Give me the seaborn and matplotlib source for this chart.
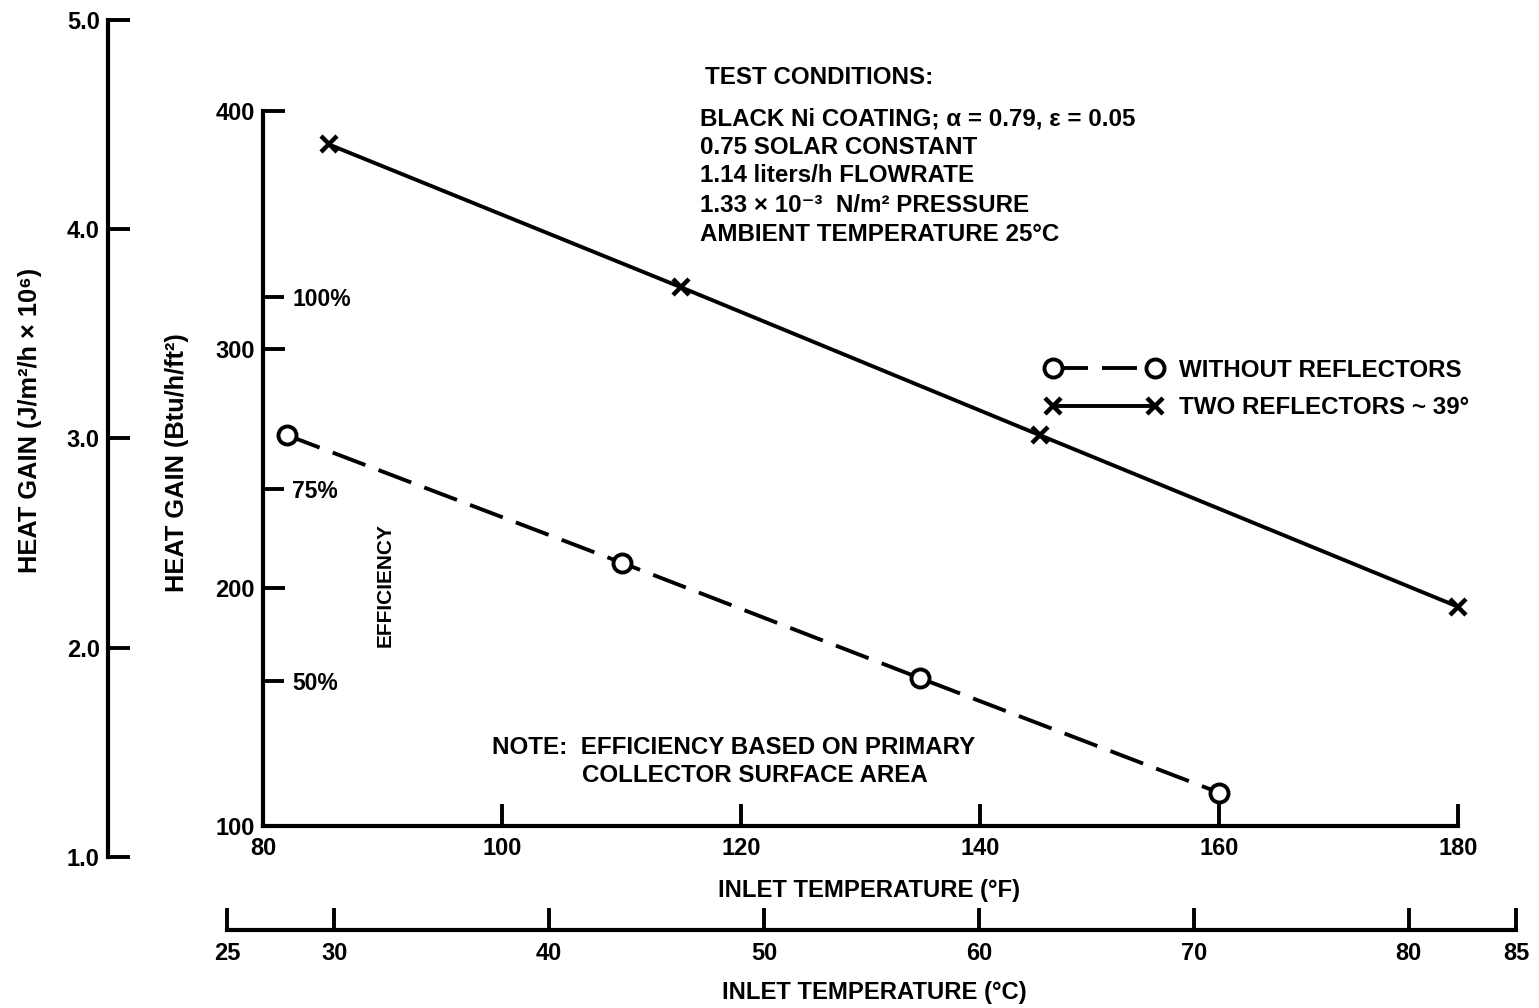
import matplotlib
matplotlib.use("Agg")
import matplotlib.pyplot as plt
import numpy as np
import pandas as pd
import seaborn as sns

# ---------------- data ----------------
temp_without_F = [82, 110, 135, 160]
gain_without = [264, 210.5, 162, 114]
temp_two_F = [85.5, 115, 145, 180]
gain_two = [386, 326, 264, 192]

label_without = "WITHOUT REFLECTORS"
label_two = "TWO REFLECTORS ~ 39°"

xticks_F = [80, 100, 120, 140, 160, 180]
yticks_btu = [100, 200, 300, 400]
yticks_J = [1.0, 2.0, 3.0, 4.0, 5.0]
xticks_C = [25, 30, 40, 50, 60, 70, 80, 85]
eff_ticks = [50, 75, 100]
eff_labels = ["50%", "75%", "100%"]
eff_full_btu = 322  # heat gain (Btu/h/ft2) corresponding to 100 % efficiency

test_lines = [
    "BLACK Ni COATING; α = 0.79, ε = 0.05",
    "0.75 SOLAR CONSTANT",
    "1.14 liters/h FLOWRATE",
    "1.33 × 10⁻³  N/m² PRESSURE",
    "AMBIENT TEMPERATURE 25°C",
]

# ---------------- style ----------------
sns.set_style("white")
plt.rcParams["font.family"] = ["Liberation Sans", "DejaVu Sans"]
plt.rcParams["font.weight"] = "bold"
plt.rcParams["axes.linewidth"] = 3
for k in ["text.color", "axes.labelcolor", "xtick.color", "ytick.color",
          "axes.edgecolor"]:
    plt.rcParams[k] = "black"

W, H = 1539, 1008
fig = plt.figure(figsize=(W / 100, H / 100), dpi=100)
fig.patch.set_facecolor("white")


def rect(l, t, r, b):
    return [l / W, 1 - b / H, (r - l) / W, (b - t) / H]


def ftext(px, py, s, **kw):
    fig.text(px / W, 1 - py / H, s, color="black", **kw)


TICK_LEN = 16
TICK_W = 2.8
SPINE_W = 3
TICK_FS = 17
TXT_FS = 17.4

# ---------------- main axes (°F vs Btu/h/ft2) ----------------
ax = fig.add_axes(rect(263, 111, 1458, 826))
ax.patch.set_visible(False)

sns.lineplot(x=temp_two_F, y=gain_two, ax=ax, color="black", linewidth=2.8,
             marker="x", markersize=12, markeredgewidth=3.2,
             markeredgecolor="black", errorbar=None, label=label_two,
             clip_on=False)
sns.lineplot(x=temp_without_F, y=gain_without, ax=ax, color="black",
             linewidth=2.8, linestyle=(0, (9, 3.6)), marker="o", markersize=13,
             markerfacecolor="white", markeredgecolor="black",
             markeredgewidth=2.8, errorbar=None, label=label_without,
             clip_on=False)

ax.set_xlim(80, 180)
ax.set_ylim(100, 400)
ax.set_xticks(xticks_F)
ax.set_yticks(yticks_btu)
for s in ["top", "right"]:
    ax.spines[s].set_visible(False)
for s in ["left", "bottom"]:
    ax.spines[s].set_color("black")
    ax.spines[s].set_linewidth(SPINE_W)
ax.tick_params(axis="both", direction="in", length=TICK_LEN, width=TICK_W,
               labelsize=TICK_FS, colors="black", left=True, bottom=True)
ax.tick_params(axis="x", pad=8)
ax.tick_params(axis="y", pad=6)

ax.set_xlabel("INLET TEMPERATURE (°F)", fontsize=17.2, fontweight="bold")
ax.xaxis.set_label_coords((869 - 263) / 1195, (826 - 890) / 715)
ax.xaxis.label.set_va("center")
ax.set_ylabel("HEAT GAIN (Btu/h/ft²)", fontsize=18.3, fontweight="bold")
ax.yaxis.set_label_coords((177 - 263) / 1195, (826 - 463) / 715)
ax.yaxis.label.set_va("center")

# legend
handles, labels = ax.get_legend_handles_labels()
order = [labels.index(label_without), labels.index(label_two)]
leg = ax.legend([handles[i] for i in order], [labels[i] for i in order],
                loc="center left", bbox_to_anchor=(1046 / W, 1 - 389 / H),
                bbox_transform=fig.transFigure, frameon=False, numpoints=2,
                handlelength=4.8, handletextpad=0.72, labelspacing=0.6,
                borderpad=0, borderaxespad=0,
                prop={"size": TXT_FS, "weight": "bold"})
for t in leg.get_texts():
    t.set_color("black")

# ---------------- efficiency scale ----------------
eax = fig.add_axes(rect(263, 111, 1458, 826))
eax.patch.set_visible(False)
eax.set_xlim(0, 1)
eax.set_ylim(100 / eff_full_btu * 100, 400 / eff_full_btu * 100)
for s in ["top", "left", "bottom"]:
    eax.spines[s].set_visible(False)
eax.spines["right"].set_position(("axes", 0))
eax.spines["right"].set_color("none")
eax.yaxis.tick_right()
eax.set_xticks([])
eax.set_yticks(eff_ticks)
eax.set_yticklabels(eff_labels)
eax.tick_params(axis="y", direction="out", length=15, width=TICK_W,
                pad=6, labelsize=16.5, colors="black", right=True)
eax.yaxis.set_label_position("right")
eax.set_ylabel("EFFICIENCY", fontsize=15, fontweight="bold", rotation=90)
eax.yaxis.set_label_coords((385 - 263) / 1195, (826 - 585) / 715)
eax.yaxis.label.set_va("center")
eax.yaxis.label.set_ha("center")

# ---------------- J/m2/h scale ----------------
jax = fig.add_axes(rect(108, 20, 140, 857))
jax.patch.set_visible(False)
jax.set_ylim(1.0, 5.0)
jax.set_xticks([])
jax.set_yticks(yticks_J)
jax.set_yticklabels([f"{v:.1f}" for v in yticks_J])
for s in ["top", "right", "bottom"]:
    jax.spines[s].set_visible(False)
jax.spines["left"].set_color("black")
jax.spines["left"].set_linewidth(SPINE_W)
jax.tick_params(axis="y", direction="in", length=TICK_LEN, width=TICK_W,
                pad=6, labelsize=TICK_FS, colors="black", left=True)
jax.set_ylabel("HEAT GAIN (J/m²/h × 10⁶)", fontsize=18.3, fontweight="bold")
jax.yaxis.set_label_coords((30 - 108) / 32, (857 - 420) / 837)
jax.yaxis.label.set_va("center")

# ---------------- °C scale ----------------
cax = fig.add_axes(rect(227, 920, 1516, 930))
cax.patch.set_visible(False)
cax.set_xlim(25, 85)
cax.set_yticks([])
cax.set_xticks(xticks_C)
for s in ["top", "right", "left"]:
    cax.spines[s].set_visible(False)
cax.spines["bottom"].set_color("black")
cax.spines["bottom"].set_linewidth(SPINE_W)
cax.tick_params(axis="x", direction="in", length=TICK_LEN, width=TICK_W,
                pad=9, labelsize=TICK_FS, colors="black", bottom=True)
cax.set_xlabel("INLET TEMPERATURE (°C)", fontsize=17.2, fontweight="bold")
cax.xaxis.set_label_coords((874 - 227) / 1289, (930 - 993) / 10)
cax.xaxis.label.set_va("center")

# ---------------- annotations ----------------
ftext(705, 78, "TEST CONDITIONS:", fontsize=TXT_FS, fontweight="bold",
      va="center", ha="left")
for ypix, line in zip([119, 147, 176, 205, 234], test_lines):
    ftext(700, ypix, line, fontsize=TXT_FS, fontweight="bold", va="center",
          ha="left")

ftext(492, 747, "NOTE:  EFFICIENCY BASED ON PRIMARY", fontsize=TXT_FS,
      fontweight="bold", va="center", ha="left")
ftext(582, 775, "COLLECTOR SURFACE AREA", fontsize=TXT_FS, fontweight="bold",
      va="center", ha="left")

fig.savefig("out.png", dpi=100, facecolor="white")
